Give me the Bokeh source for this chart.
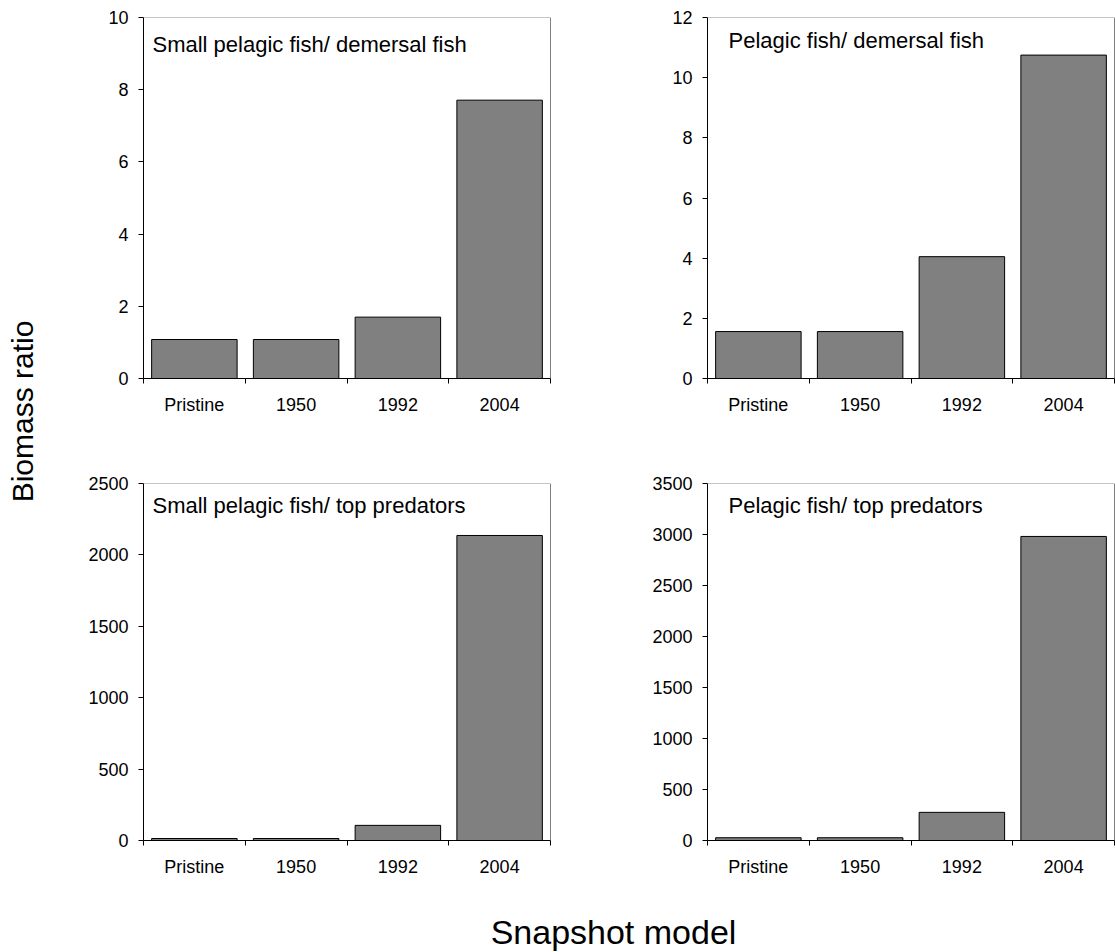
from bokeh.plotting import figure
from bokeh.layouts import row, column
from bokeh.models import Range1d, FixedTicker, Span, Label
from bokeh.core.properties import value
from bokeh.embed import file_html
from bokeh.resources import INLINE

# Snapshot models
categories = ["Pristine", "1950", "1992", "2004"]

# Biomass ratios for each snapshot model
small_pelagic_demersal = [1.08, 1.08, 1.70, 7.71]
pelagic_demersal = [1.56, 1.56, 4.05, 10.75]
small_pelagic_top = [14, 14, 106, 2136]
pelagic_top = [27, 27, 276, 2981]

panel_titles = [
    "Small pelagic fish/ demersal fish",
    "Pelagic fish/ demersal fish",
    "Small pelagic fish/ top predators",
    "Pelagic fish/ top predators",
]
y_max = [10, 12, 2500, 3500]
y_step = [2, 2, 500, 500]

FONT = "Liberation Sans"
BAR_FILL = "#808080"


def panel(values, title, ymax, step, width, height, left, right, top, bottom,
          title_dx, title_dy):
    n = len(categories)
    centers = [i + 0.5 for i in range(n)]
    p = figure(
        width=width, height=height, title=None,
        x_range=Range1d(0, n), y_range=Range1d(0, ymax),
        output_backend="svg", toolbar_location=None,
        min_border_left=left, min_border_right=right,
        min_border_top=top, min_border_bottom=bottom,
        background_fill_color="white", border_fill_color="white",
    )
    p.outline_line_color = None
    p.xgrid.visible = False
    p.ygrid.visible = False

    p.vbar(x=centers, top=values, width=0.84, bottom=0,
           fill_color=BAR_FILL, line_color="black", line_width=1)

    # category axis: labels centred, tick marks between categories
    xa = p.xaxis[0]
    xa.ticker = FixedTicker(ticks=centers, minor_ticks=list(range(n + 1)))
    xa.major_label_overrides = {c: lab for c, lab in zip(centers, categories)}
    xa.major_tick_out = 0
    xa.major_tick_in = 0
    xa.minor_tick_out = 5
    xa.minor_tick_in = 0
    xa.minor_tick_line_color = "black"
    xa.axis_line_color = "black"
    xa.major_label_standoff = 11
    xa.major_label_text_font = FONT
    xa.major_label_text_font_size = "18px"
    xa.major_label_text_color = "black"

    ya = p.yaxis[0]
    ya.ticker = FixedTicker(ticks=list(range(0, ymax + step, step)), minor_ticks=[])
    ya.major_tick_out = 5
    ya.major_tick_in = 0
    ya.major_tick_line_color = "black"
    ya.axis_line_color = "black"
    ya.major_label_standoff = 10
    ya.major_label_text_font = FONT
    ya.major_label_text_font_size = "18px"
    ya.major_label_text_color = "black"

    # plot-area border: grey along the top, black on the right
    p.add_layout(Span(location=ymax, dimension="width",
                      line_color="#8c8c8c", line_width=1))
    p.add_layout(Span(location=n, dimension="height",
                      line_color="black", line_width=1))

    frame_w = width - left - right
    frame_h = height - top - bottom
    p.add_layout(Label(
        x=n * title_dx / frame_w, y=ymax * (1 - title_dy / frame_h),
        text=title, text_font=FONT, text_font_size="22px",
        text_color="black", text_align="left", text_baseline="alphabetic",
    ))
    return p


p1 = panel(small_pelagic_demersal, panel_titles[0], y_max[0], y_step[0],
           540, 440, 83, 50, 17, 62, 9, 27)
p2 = panel(pelagic_demersal, panel_titles[1], y_max[1], y_step[1],
           515, 440, 107, 1, 17, 62, 21, 23)
p3 = panel(small_pelagic_top, panel_titles[2], y_max[2], y_step[2],
           540, 450, 83, 50, 43, 50, 9, 22)
p4 = panel(pelagic_top, panel_titles[3], y_max[3], y_step[3],
           515, 450, 107, 1, 43, 50, 21, 22)


def text_strip(width, height):
    f = figure(width=width, height=height, title=None,
               x_range=Range1d(0, width), y_range=Range1d(0, height),
               x_axis_type=None, y_axis_type=None,
               output_backend="svg", toolbar_location=None,
               min_border=0, background_fill_color="white",
               border_fill_color="white")
    f.outline_line_color = None
    f.xgrid.visible = False
    f.ygrid.visible = False
    return f


# shared y-axis title
ylab = text_strip(60, 890)
ylab.text(x=[22], y=[890 - 411], text=["Biomass ratio"], angle=1.5708,
          text_font=value(FONT), text_font_size="30px", text_color="black",
          text_align="center", text_baseline="alphabetic")

# shared x-axis title
xlab = text_strip(1115, 62)
xlab.text(x=[613], y=[21], text=["Snapshot model"],
          text_font=value(FONT), text_font_size="34px", text_color="black",
          text_align="center", text_baseline="alphabetic")

grid = column(row(p1, p2), row(p3, p4))
layout = column(row(ylab, grid), xlab)

open("out.html", "w").write(file_html(layout, INLINE))
